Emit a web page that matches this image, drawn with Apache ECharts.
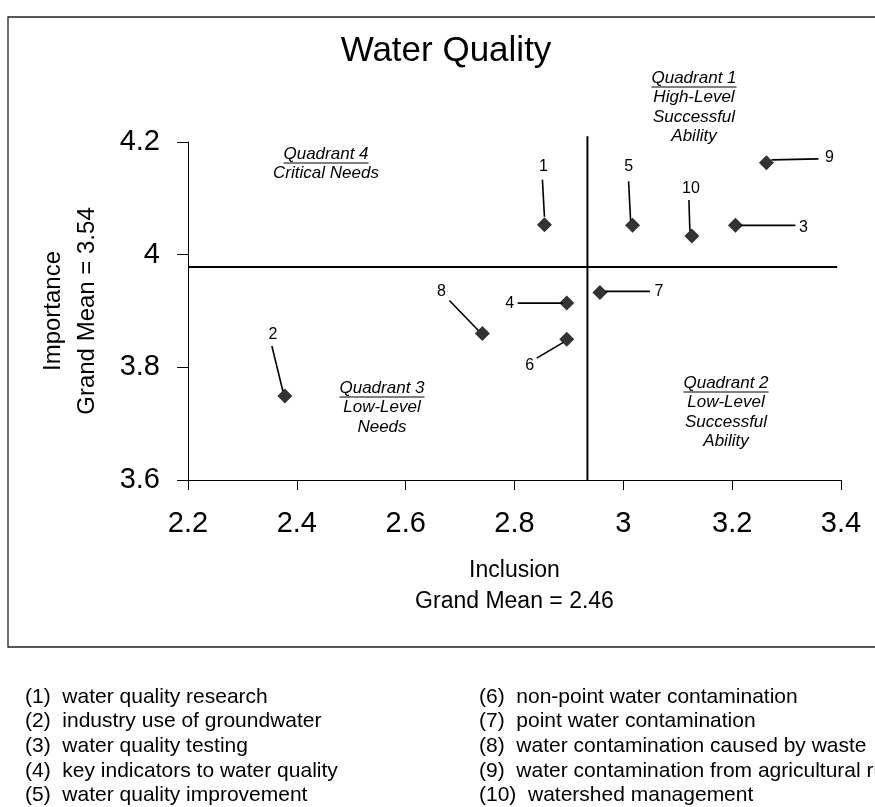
<!DOCTYPE html>
<html>
<head>
<meta charset="utf-8">
<script src="https://cdn.jsdelivr.net/npm/echarts@6/dist/echarts.min.js"></script>
<style>
  html, body { margin: 0; padding: 0; background: #fff; }
  #chart { width: 875px; height: 807px; }
</style>
</head>
<body>
<div id="chart"></div>
<script>
// ---------------- data ----------------
const itemIds = ['1', '2', '3', '4', '5', '6', '7', '8', '9', '10'];
const inclusion  = [2.855, 2.378, 3.206, 2.896, 3.017, 2.896, 2.957, 2.741, 3.263, 3.126];
const importance = [4.053, 3.749, 4.052, 3.914, 4.052, 3.850, 3.933, 3.860, 4.163, 4.033];
const itemNames = [
  'water quality research',
  'industry use of groundwater',
  'water quality testing',
  'key indicators to water quality',
  'water quality improvement',
  'non-point water contamination',
  'point water contamination',
  'water contamination caused by waste',
  'water contamination from agricultural runoff',
  'watershed management'
];
const xTickLabels = ['2.2', '2.4', '2.6', '2.8', '3', '3.2', '3.4'];
const yTickLabels = ['3.6', '3.8', '4', '4.2'];
const xDivider = 2.934;   // vertical quadrant divider (Inclusion)
const yDivider = 3.978;   // horizontal quadrant divider (Importance)
const chartTitle = 'Water Quality';
const xName = ['Inclusion', 'Grand Mean = 2.46'];
const yName = ['Importance', 'Grand Mean = 3.54'];
const quadrants = [
  ['Quadrant 1', 'High-Level', 'Successful', 'Ability'],
  ['Quadrant 2', 'Low-Level', 'Successful', 'Ability'],
  ['Quadrant 3', 'Low-Level', 'Needs'],
  ['Quadrant 4', 'Critical Needs']
];

// ---------------- layout (pixel offsets of callouts relative to their point) ----------------
const callouts = [
  { l: [-2, -45, 0, -8],   t: [-1, -58] },
  { l: [-13, -50, -2, -5], t: [-12, -61] },
  { l: [5, 0, 60, 0],      t: [68, 2] },
  { l: [-49, 0, -4, 0],    t: [-57, 0] },
  { l: [-4, -44, -2, -5],  t: [-4, -59] },
  { l: [-30, 19, -3, 3],   t: [-37, 26] },
  { l: [5, -1, 50, -1],    t: [59, -1] },
  { l: [-33, -33, -4, -3], t: [-41, -42] },
  { l: [5, -3, 52, -4],    t: [63, -5] },
  { l: [-3, -36, -2, -5],  t: [-1, -47] }
];
const quadrantPos = [[694, 78], [726, 383], [382, 388], [326, 154]];

const FONT = '"Liberation Sans", Arial, Helvetica, sans-serif';
const points = inclusion.map((x, i) => [x, importance[i]]);

const measureCtx = document.createElement('canvas').getContext('2d');
function textWidth(t, font) { measureCtx.font = font; return measureCtx.measureText(t).width; }

const graphics = [];
// frame
graphics.push({
  type: 'rect', silent: true,
  shape: { x: 8, y: 17, width: 880, height: 630 },
  style: { fill: 'none', stroke: '#222', lineWidth: 1.3 }
});
// title
graphics.push({
  type: 'text', x: 446, y: 51,
  style: { text: chartTitle, font: '35px ' + FONT, fill: '#000', textAlign: 'center', textVerticalAlign: 'middle', align: 'center', verticalAlign: 'middle' }
});
// quadrant annotations
const qFont = 'italic 17px ' + FONT;
quadrants.forEach((lines, qi) => {
  const [cx, cy] = quadrantPos[qi];
  lines.forEach((ln, li) => {
    const y = cy + li * 19.5;
    graphics.push({
      type: 'text', x: cx, y: y,
      style: { text: ln, font: qFont, fill: '#000', textAlign: 'center', textVerticalAlign: 'middle', align: 'center', verticalAlign: 'middle' }
    });
    if (li === 0) {
      const w = textWidth(ln, qFont);
      graphics.push({
        type: 'line', silent: true,
        shape: { x1: cx - w / 2, y1: y + 9, x2: cx + w / 2, y2: y + 9 },
        style: { stroke: '#000', lineWidth: 1 }
      });
    }
  });
});
// item key list
const keyFont = '21px ' + FONT;
itemNames.forEach((name, i) => {
  const col = i < 5 ? 0 : 1;
  const row = i % 5;
  graphics.push({
    type: 'text', x: col === 0 ? 25 : 479, y: 697 + row * 24.6,
    style: { text: '(' + itemIds[i] + ')  ' + name, font: keyFont, fill: '#000', textAlign: 'left', textVerticalAlign: 'middle', align: 'left', verticalAlign: 'middle' }
  });
});

const chart = echarts.init(document.getElementById('chart'), null, { renderer: 'canvas' });
const option = {
  backgroundColor: '#fff',
  animation: false,
  grid: { left: 188, right: 34, top: 142, bottom: 327 },
  xAxis: {
    type: 'value', min: 2.2, max: 3.4, interval: 0.2,
    name: xName.join('\n'), nameLocation: 'middle', nameGap: 75,
    nameTextStyle: { fontSize: 23, color: '#000', fontFamily: FONT, lineHeight: 31 },
    axisLine: { show: true, lineStyle: { color: '#000', width: 1 } },
    axisTick: { show: true, length: 10, lineStyle: { color: '#000', width: 1 } },
    axisLabel: {
      fontSize: 29, color: '#000', fontFamily: FONT, margin: 29,
      formatter: v => xTickLabels[Math.round((v - 2.2) / 0.2)]
    },
    splitLine: { show: false }
  },
  yAxis: {
    type: 'value', min: 3.6, max: 4.2, interval: 0.2,
    name: yName.join('\n'), nameLocation: 'middle', nameGap: 84, nameRotate: 90,
    nameTextStyle: { fontSize: 24, color: '#000', fontFamily: FONT, lineHeight: 34 },
    axisLine: { show: true, lineStyle: { color: '#000', width: 1 } },
    axisTick: { show: true, length: 11, lineStyle: { color: '#000', width: 1 } },
    axisLabel: {
      fontSize: 29, color: '#000', fontFamily: FONT, margin: 28,
      formatter: v => yTickLabels[Math.round((v - 3.6) / 0.2)]
    },
    splitLine: { show: false }
  },
  graphic: graphics,
  series: [
    {
      type: 'line', clip: false, symbol: 'none', silent: true,
      data: [[xDivider, 3.6], [xDivider, 4.21]],
      lineStyle: { color: '#000', width: 2 }
    },
    {
      type: 'line', clip: false, symbol: 'none', silent: true,
      data: [[2.2, yDivider], [3.393, yDivider]],
      lineStyle: { color: '#000', width: 2 }
    },
    {
      type: 'custom', clip: false, silent: true,
      data: points,
      renderItem: (params, api) => {
        const p = api.coord([api.value(0), api.value(1)]);
        const c = callouts[params.dataIndex];
        return {
          type: 'group',
          children: [
            { type: 'line', shape: { x1: p[0] + c.l[0], y1: p[1] + c.l[1], x2: p[0] + c.l[2], y2: p[1] + c.l[3] },
              style: { stroke: '#000', lineWidth: 1.6 } },
            { type: 'text', x: p[0] + c.t[0], y: p[1] + c.t[1],
              style: { text: itemIds[params.dataIndex], font: '16px ' + FONT, fill: '#000',
                       textAlign: 'center', textVerticalAlign: 'middle', align: 'center', verticalAlign: 'middle' } }
          ]
        };
      }
    },
    {
      type: 'scatter', data: points, symbol: 'diamond', symbolSize: 15,
      itemStyle: { color: '#000' }
    }
  ]
};
chart.setOption(option);
</script>
</body>
</html>
